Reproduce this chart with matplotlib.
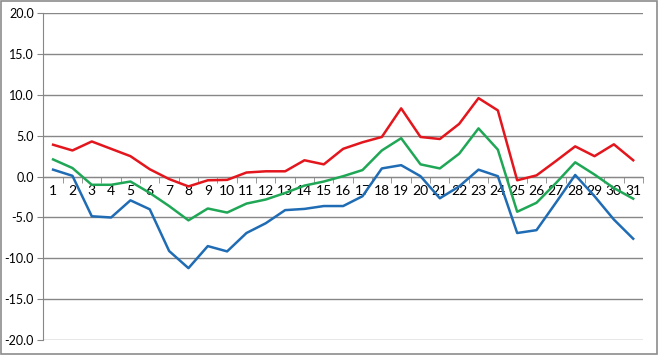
import matplotlib
matplotlib.use("Agg")
import matplotlib.pyplot as plt
import numpy as np

days = list(range(1, 32))
red = [3.9, 3.2, 4.3, 3.4, 2.5, 0.9, -0.3, -1.2, -0.45, -0.4, 0.5, 0.65, 0.65, 2.0, 1.5,
       3.4, 4.2, 4.85, 8.35, 4.85, 4.6, 6.45, 9.6, 8.1, -0.45, 0.15, 1.9, 3.7, 2.5, 3.95, 2.0]
green = [2.1, 1.05, -1.0, -1.0, -0.6, -2.0, -3.6, -5.35, -3.9, -4.4, -3.3, -2.8, -2.0, -1.1, -0.6,
         0.05, 0.8, 3.2, 4.7, 1.5, 1.0, 2.8, 5.9, 3.3, -4.3, -3.2, -0.8, 1.75, 0.25, -1.4, -2.7]
blue = [0.85, 0.1, -4.85, -5.0, -2.9, -4.0, -9.1, -11.2, -8.5, -9.15, -6.9, -5.7, -4.1, -3.95, -3.6,
        -3.6, -2.4, 1.0, 1.4, 0.05, -2.65, -1.2, 0.85, 0.05, -6.9, -6.55, -3.2, 0.2, -2.4, -5.25, -7.6]
yticks = [-20, -15, -10, -5, 0, 5, 10, 15, 20]

plt.rcParams['font.family'] = ['Lato', 'DejaVu Sans']
fig = plt.figure(figsize=(6.58, 3.55), dpi=100)
ax = fig.add_axes([0.066, 0.042, 0.911, 0.921])

grid_c = '#878787'
for v in yticks:
    ax.axhline(v, color=grid_c, lw=1.0, zorder=1)

ax.plot(days, red, color='#E3161D', lw=1.8, zorder=3)
ax.plot(days, green, color='#1FA756', lw=1.8, zorder=3)
ax.plot(days, blue, color='#1F6CB4', lw=1.8, zorder=3)

ax.set_xlim(0.5, 31.5)
ax.set_ylim(-20, 20)
ax.set_yticks(yticks)
ax.set_yticklabels(['%.1f' % v for v in yticks], fontsize=9)
ax.set_xticks(days)
ax.set_xticklabels([str(d) for d in days], fontsize=9.5)
ax.set_xticks(np.arange(0.5, 32, 1), minor=True)

for s in ['top', 'right']:
    ax.spines[s].set_visible(False)
ax.spines['bottom'].set_position(('data', 0))
ax.spines['bottom'].set_color(grid_c)
ax.spines['left'].set_color(grid_c)
ax.tick_params(axis='x', which='major', length=0, pad=6)
ax.tick_params(axis='x', which='minor', length=4, color=grid_c, direction='out')
ax.tick_params(axis='y', length=4, color=grid_c, pad=3)

fig.patches.append(plt.Rectangle((0.001, 0.002), 0.997, 0.995, transform=fig.transFigure,
                                 fill=False, edgecolor='#8c8c8c', lw=1.2))
fig.savefig('out.png', dpi=100)
